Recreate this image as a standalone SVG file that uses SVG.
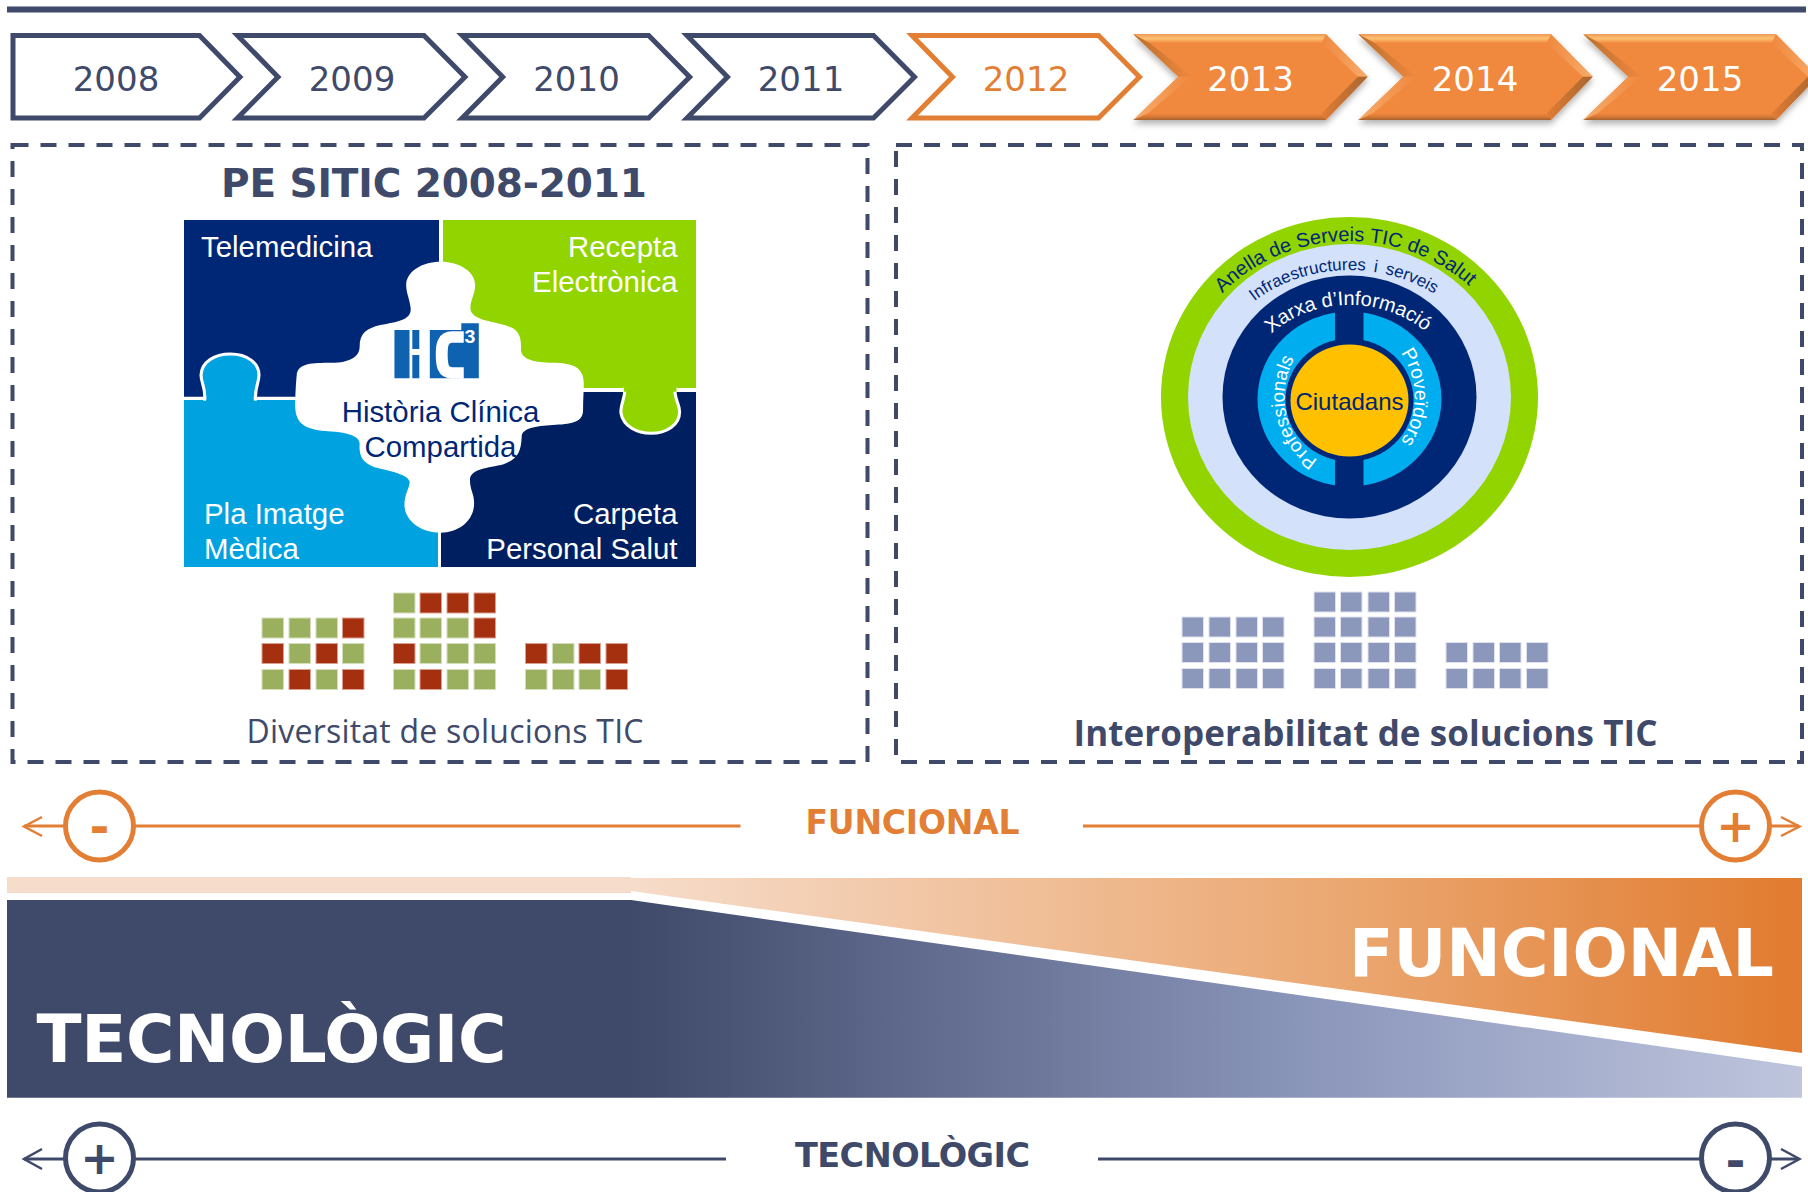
<svg xmlns="http://www.w3.org/2000/svg" width="1808" height="1192" viewBox="0 0 1808 1192">
<style>
.yr{font-family:"DejaVu Sans",sans-serif;font-size:34px;text-anchor:middle;fill:#3F4A6A}
.or{fill:#E27F34}
.w{fill:#fff}
.out{fill:#fff;stroke:#3F4A6A;stroke-width:5;stroke-linejoin:miter}
.dash{fill:none;stroke:#3F4A6A;stroke-width:4;stroke-dasharray:16 12}
.b{font-family:"DejaVu Sans",sans-serif;font-weight:700}
.pz{font-family:"Liberation Sans",Arial,sans-serif;font-size:29.4px;fill:#fff}
.c{font-family:"Liberation Sans",Arial,sans-serif;fill:#002776}
.g{fill:#9BB05E;stroke:#D5DEBA;stroke-width:1}
.r{fill:#A5300F;stroke:#D9A090;stroke-width:1}
.p{fill:#8C97BC;stroke:#DFE2EE;stroke-width:1}
.ol{fill:none;stroke:#E27F34}
.nl{fill:none;stroke:#3F4A6A}
</style>
<defs>
<path id="chev" d="M237.5,35.500H424L465,77L424,118H237.500L278,77Z"/>
<linearGradient id="gO" gradientUnits="userSpaceOnUse" x1="631" y1="0" x2="1802" y2="0"><stop offset="0" stop-color="#F6DCCA"/><stop offset=".6" stop-color="#EBA872"/><stop offset="1" stop-color="#E17B2F"/></linearGradient>
<linearGradient id="gB" gradientUnits="userSpaceOnUse" x1="631" y1="0" x2="1802" y2="0"><stop offset="0" stop-color="#3F4A6A"/><stop offset=".57" stop-color="#8A95BA"/><stop offset="1" stop-color="#BEC5DD"/></linearGradient>
<linearGradient id="gT" x1="0" y1="0" x2="0" y2="1"><stop offset="0" stop-color="#EE9A58"/><stop offset=".45" stop-color="#FFC272"/><stop offset="1" stop-color="#F0883E"/></linearGradient>
<linearGradient id="gBo" x1="0" y1="0" x2="0" y2="1"><stop offset="0" stop-color="#F0883E"/><stop offset=".5" stop-color="#D87A36"/><stop offset="1" stop-color="#A5622B"/></linearGradient>
<linearGradient id="gL" x1="0" y1="0" x2="1" y2="0"><stop offset="0" stop-color="#B8702F"/><stop offset="1" stop-color="#F0883E"/></linearGradient>
<linearGradient id="gLo" x1="0" y1="0" x2="1" y2="0"><stop offset="0" stop-color="#F6AC6A"/><stop offset="1" stop-color="#F0883E"/></linearGradient>
<linearGradient id="gR" x1="0" y1="0" x2="1" y2="0"><stop offset="0" stop-color="#F0883E"/><stop offset="1" stop-color="#F6AC6A"/></linearGradient>
<linearGradient id="gRo" x1="0" y1="0" x2="1" y2="0"><stop offset="0" stop-color="#E07C36"/><stop offset="1" stop-color="#A86630"/></linearGradient>
<filter id="sh" x="-5%" y="-10%" width="110%" height="130%"><feDropShadow dx="0" dy="4" stdDeviation="3" flood-color="#000" flood-opacity=".3"/></filter>
<g id="bev">
<path d="M1133.3,34.3H1326L1367.7,76.7L1326,120H1133.3L1178.3,76.7Z" fill="#F0883E" filter="url(#sh)"/>
<path d="M1133.3,34.3H1326L1321.7,43.3H1150Z" fill="url(#gT)"/>
<path d="M1133.3,34.3L1150,43.3L1191.7,76.7H1178.3Z" fill="url(#gL)"/>
<path d="M1133.3,120L1148,113.3L1191.7,76.7H1178.3Z" fill="url(#gLo)"/>
<path d="M1133.3,120H1326L1321.7,113.3H1148Z" fill="url(#gBo)"/>
<path d="M1326,34.3L1367.7,76.7H1358L1321.7,43.3Z" fill="url(#gR)"/>
<path d="M1326,120L1367.7,76.7H1358L1321.7,113.3Z" fill="url(#gRo)"/>
</g>
<path id="pOuter" d="M1179.500,397A170,156 0 0 1 1519.500,397"/>
<path id="pMid" d="M1204.500,397A145,127 0 0 1 1494.500,397"/>
<path id="pNet" d="M1241.500,397A108,92 0 0 1 1457.500,397"/>
<path id="pIn" d="M1349.500,469A65,72 0 1 1 1349.500,325A65,72 0 1 1 1349.500,469"/>
</defs>
<rect id="top-rule" x="7" y="6.5" width="1799" height="6" fill="#3F4A6A"/>
<g id="year-2008"><path class="out" d="M13,35.500H199.500L240,77L199.500,118H13Z"/><text class="yr" x="116" y="90.5">2008</text></g>
<g id="year-2009"><use href="#chev" class="out"/><text class="yr" x="352" y="90.5">2009</text></g>
<g id="year-2010"><use href="#chev" class="out" x="224.7"/><text class="yr" x="576.5" y="90.5">2010</text></g>
<g id="year-2011"><use href="#chev" class="out" x="449.5"/><text class="yr" x="801" y="90.5">2011</text></g>
<g id="year-2012"><use href="#chev" class="out" x="674.5" style="stroke:#E27F34"/><text class="yr" x="1026" y="90.5" style="fill:#E27F34">2012</text></g>
<g id="year-2013"><use href="#bev"/><text class="yr" x="1250.500" y="90.5" style="fill:#fff">2013</text></g>
<g id="year-2014"><use href="#bev" x="225"/><text class="yr" x="1475" y="90.5" style="fill:#fff">2014</text></g>
<g id="year-2015"><use href="#bev" x="450"/><text class="yr" x="1700" y="90.5" style="fill:#fff">2015</text></g>

<g id="panel-left">
<rect class="dash" x="12.5" y="145" width="855" height="617"/>
<text class="b" x="434" y="196.5" font-size="39" fill="#3F4A6A" text-anchor="middle" textLength="426">PE SITIC 2008-2011</text>
</g>
<g id="puzzle">
<rect x="184" y="220" width="255" height="178" fill="#002776"/>
<rect x="443" y="220" width="253" height="168" fill="#92D400"/>
<rect x="441" y="392" width="255" height="175" fill="#001F60"/>
<rect x="184" y="400" width="254" height="167" fill="#00A3E0"/>
<g transform="translate(170,210) scale(.3448,.3333)">
<path d="M100,572C105,535 90,520 90,495C92,455 130,432 175,432C225,432 258,460 258,495C258,520 245,535 248,572" fill="#00A3E0" stroke="#fff" stroke-width="9"/>
<path d="M40,565H105M243,565H370" stroke="#fff" stroke-width="9" fill="none"/>
<path d="M1200,540H1316M1469,540H1526" stroke="#fff" stroke-width="11" fill="none"/>
<path d="M1320,530C1320,570 1305,585 1308,610C1315,650 1355,670 1395,670C1440,670 1478,645 1478,605C1478,580 1460,565 1465,530" fill="#92D400" stroke="#fff" stroke-width="9"/>
<path d="M1316,520H1469V545H1316Z" fill="#92D400"/>
<path d="M785,155C840,155 885,185 885,225C885,255 868,275 872,300C878,335 960,335 995,355C1020,372 1018,400 1018,420C1020,450 1060,458 1110,458C1165,458 1200,470 1200,520C1200,545 1198,570 1198,600C1198,640 1160,642 1110,645C1060,648 1020,655 1020,680C1018,730 1005,750 960,765C910,775 870,780 870,810C870,840 882,850 882,880C882,930 840,968 785,968C725,968 680,930 680,885C680,850 695,835 695,815C690,790 620,780 590,770C555,755 548,735 550,700C548,670 490,665 440,662C390,655 365,640 363,590C363,560 365,520 368,490C375,460 410,458 470,458C520,458 550,440 550,410C550,370 570,355 610,345C660,335 700,330 698,295C695,265 685,250 685,225C685,185 730,155 785,155Z" fill="#fff"/>
</g>
<g id="hc3-logo" transform="translate(385,315) scale(.35,.3333)">
<path d="M27,45H70V190H27ZM78,45H98V102H78ZM78,120H98V190H78ZM128,45H218V25H268V190H128Z" fill="#0F62B0"/>
<path d="M225,66H192C165,66 162,90 162,118C162,150 165,174 192,174H225" fill="none" stroke="#fff" stroke-width="34"/>
<text x="243" y="85" font-family="Liberation Sans,Arial,sans-serif" font-weight="700" font-size="56" fill="#fff" text-anchor="middle">3</text>
</g>
<text class="pz" x="201" y="257">Telemedicina</text>
<text class="pz" x="677.5" y="257" text-anchor="end">Recepta</text>
<text class="pz" x="677.5" y="292" text-anchor="end">Electrònica</text>
<text class="pz" x="204" y="524">Pla Imatge</text>
<text class="pz" x="204" y="559">Mèdica</text>
<text class="pz" x="677.5" y="524" text-anchor="end">Carpeta</text>
<text class="pz" x="677.5" y="559" text-anchor="end">Personal Salut</text>
<text class="pz" x="440.5" y="422" text-anchor="middle" style="fill:#002776">Història Clínica</text>
<text class="pz" x="440.5" y="457" text-anchor="middle" style="fill:#002776">Compartida</text>
</g>

<g id="squares-left">
<rect class="g" x="262" y="618" width="21.5" height="20"/><rect class="g" x="289" y="618" width="21.5" height="20"/><rect class="g" x="316" y="618" width="21.5" height="20"/><rect class="r" x="342.500" y="618" width="21.5" height="20"/>
<rect class="r" x="262" y="643.500" width="21.5" height="20"/><rect class="g" x="289" y="643.500" width="21.5" height="20"/><rect class="r" x="316" y="643.500" width="21.5" height="20"/><rect class="g" x="342.500" y="643.500" width="21.5" height="20"/>
<rect class="g" x="262" y="669.500" width="21.5" height="20"/><rect class="r" x="289" y="669.500" width="21.5" height="20"/><rect class="g" x="316" y="669.500" width="21.5" height="20"/><rect class="r" x="342.500" y="669.500" width="21.5" height="20"/>
<rect class="g" x="393.500" y="593" width="21.5" height="20"/><rect class="r" x="420" y="593" width="21.5" height="20"/><rect class="r" x="447" y="593" width="21.5" height="20"/><rect class="r" x="474" y="593" width="21.5" height="20"/>
<rect class="g" x="393.500" y="618" width="21.5" height="20"/><rect class="g" x="420" y="618" width="21.5" height="20"/><rect class="g" x="447" y="618" width="21.5" height="20"/><rect class="r" x="474" y="618" width="21.5" height="20"/>
<rect class="r" x="393.500" y="643.500" width="21.5" height="20"/><rect class="g" x="420" y="643.500" width="21.5" height="20"/><rect class="g" x="447" y="643.500" width="21.5" height="20"/><rect class="g" x="474" y="643.500" width="21.5" height="20"/>
<rect class="g" x="393.500" y="669.500" width="21.5" height="20"/><rect class="r" x="420" y="669.500" width="21.5" height="20"/><rect class="g" x="447" y="669.500" width="21.5" height="20"/><rect class="g" x="474" y="669.500" width="21.500" height="20"/>
<rect class="r" x="525.500" y="643.500" width="21.5" height="20"/><rect class="g" x="552.500" y="643.500" width="21.5" height="20"/><rect class="r" x="579" y="643.500" width="21.5" height="20"/><rect class="r" x="606" y="643.500" width="21.5" height="20"/>
<rect class="g" x="525.500" y="669.500" width="21.5" height="20"/><rect class="g" x="552.500" y="669.500" width="21.5" height="20"/><rect class="g" x="579" y="669.500" width="21.5" height="20"/><rect class="r" x="606" y="669.500" width="21.5" height="20"/>
</g>
<text id="label-diversitat" x="445" y="742.5" font-family="Open Sans,sans-serif" font-size="32" fill="#3F4A6A" text-anchor="middle" textLength="397">Diversitat de solucions TIC</text>

<g id="panel-right">
<rect class="dash" x="896" y="145" width="906" height="617"/>
</g>
<g id="rings">
<ellipse cx="1349.500" cy="397" rx="188.500" ry="180" fill="#92D400"/>
<ellipse cx="1349.500" cy="397" rx="161.500" ry="153" fill="#D3E1FB"/>
<ellipse cx="1349.500" cy="397" rx="127" ry="121.500" fill="#002776"/>
<ellipse cx="1349.500" cy="399" rx="92" ry="87.500" fill="#00AEEF"/>
<rect x="1335" y="300" width="28.500" height="200" fill="#002776"/>
<ellipse cx="1349.500" cy="400" rx="64" ry="61.500" fill="#002776"/>
<ellipse cx="1349.500" cy="400.500" rx="59" ry="56" fill="#FFC000"/>
<text class="c" font-size="20"><textPath href="#pOuter" startOffset="49%" text-anchor="middle">Anella de Serveis TIC de Salut</textPath></text>
<text class="c" font-size="17" word-spacing="3"><textPath href="#pMid" startOffset="48.500%" text-anchor="middle">Infraestructures i serveis</textPath></text>
<text class="c" font-size="20" style="fill:#fff"><textPath href="#pNet" startOffset="49.500%" text-anchor="middle">Xarxa d’Informació</textPath></text>
<text class="c" font-size="19" style="fill:#fff"><textPath href="#pIn" startOffset="21%" text-anchor="middle">Professionals</textPath></text>
<text class="c" font-size="19.500" style="fill:#fff"><textPath href="#pIn" startOffset="75%" text-anchor="middle">Proveïdors</textPath></text>
<text class="c" x="1349.500" y="410" font-size="24" text-anchor="middle">Ciutadans</text>
</g>
<g id="squares-right">
<rect class="p" x="1182" y="617" width="21.5" height="20"/><rect class="p" x="1209" y="617" width="21.5" height="20"/><rect class="p" x="1236" y="617" width="21.5" height="20"/><rect class="p" x="1262.500" y="617" width="21.5" height="20"/>
<rect class="p" x="1182" y="642.500" width="21.5" height="20"/><rect class="p" x="1209" y="642.500" width="21.5" height="20"/><rect class="p" x="1236" y="642.500" width="21.5" height="20"/><rect class="p" x="1262.500" y="642.500" width="21.5" height="20"/>
<rect class="p" x="1182" y="668.500" width="21.5" height="20"/><rect class="p" x="1209" y="668.500" width="21.5" height="20"/><rect class="p" x="1236" y="668.500" width="21.5" height="20"/><rect class="p" x="1262.500" y="668.500" width="21.5" height="20"/>
<rect class="p" x="1314" y="592" width="21.5" height="20"/><rect class="p" x="1340.500" y="592" width="21.5" height="20"/><rect class="p" x="1368" y="592" width="21.5" height="20"/><rect class="p" x="1394.500" y="592" width="21.5" height="20"/>
<rect class="p" x="1314" y="617" width="21.5" height="20"/><rect class="p" x="1340.500" y="617" width="21.5" height="20"/><rect class="p" x="1368" y="617" width="21.5" height="20"/><rect class="p" x="1394.500" y="617" width="21.5" height="20"/>
<rect class="p" x="1314" y="642.500" width="21.5" height="20"/><rect class="p" x="1340.500" y="642.500" width="21.5" height="20"/><rect class="p" x="1368" y="642.500" width="21.5" height="20"/><rect class="p" x="1394.500" y="642.500" width="21.5" height="20"/>
<rect class="p" x="1314" y="668.500" width="21.5" height="20"/><rect class="p" x="1340.500" y="668.500" width="21.5" height="20"/><rect class="p" x="1368" y="668.500" width="21.5" height="20"/><rect class="p" x="1394.500" y="668.500" width="21.5" height="20"/>
<rect class="p" x="1446" y="642.500" width="21.5" height="20"/><rect class="p" x="1473" y="642.500" width="21.5" height="20"/><rect class="p" x="1499.500" y="642.500" width="21.5" height="20"/><rect class="p" x="1526.500" y="642.500" width="21.5" height="20"/>
<rect class="p" x="1446" y="668.500" width="21.5" height="20"/><rect class="p" x="1473" y="668.500" width="21.5" height="20"/><rect class="p" x="1499.500" y="668.500" width="21.5" height="20"/><rect class="p" x="1526.500" y="668.500" width="21.5" height="20"/>
</g>
<text id="label-interop" x="1365.500" y="745.500" font-family="Open Sans,sans-serif" font-weight="700" font-size="35" fill="#3F4A6A" text-anchor="middle" textLength="584">Interoperabilitat de solucions TIC</text>

<g id="connectors">
<path class="ol" stroke-width="3" d="M24,826H64M135,826H740.500M1083,826H1700M1771,826H1799"/>
<path class="ol" stroke-width="2.500" d="M42,817L24,826.500L42,836M1781,817L1799.500,826.500L1781,836"/>
<path class="nl" stroke-width="3" d="M24,1159H64M135,1159H726M1098,1159H1700M1771,1159H1799"/>
<path class="nl" stroke-width="2.500" d="M42,1149L24,1159L42,1169M1781,1149L1799.500,1159L1781,1169"/>
</g>
<g id="axis-func-minus"><circle cx="99.500" cy="826" r="34" fill="#fff" stroke="#E27F34" stroke-width="5"/><text class="b or" x="99.500" y="843" font-size="48" text-anchor="middle">-</text></g>
<g id="axis-func-plus"><circle cx="1735.500" cy="826" r="34" fill="#fff" stroke="#E27F34" stroke-width="5"/><text class="b or" x="1735.500" y="841.500" font-size="46" text-anchor="middle">+</text></g>
<g id="axis-tec-plus"><circle cx="99.500" cy="1158" r="34" fill="#fff" stroke="#3F4A6A" stroke-width="5"/><text class="b" x="99.500" y="1173.500" font-size="46" text-anchor="middle" fill="#3F4A6A">+</text></g>
<g id="axis-tec-minus"><circle cx="1735.500" cy="1158" r="34" fill="#fff" stroke="#3F4A6A" stroke-width="5"/><text class="b" x="1735.500" y="1176.500" font-size="48" text-anchor="middle" fill="#3F4A6A">-</text></g>
<text class="b or" id="axis-func-label" x="912.500" y="833.500" font-size="33" text-anchor="middle" textLength="214">FUNCIONAL</text>
<text class="b" id="axis-tec-label" x="912.500" y="1167" font-size="33.500" text-anchor="middle" fill="#3F4A6A" textLength="235">TECNOLÒGIC</text>

<g id="band-func">
<rect x="7" y="877" width="624" height="16" fill="#F6DCCA"/>
<path d="M631,878H1802V1053L631,891Z" fill="url(#gO)"/>
<text class="b w" x="1349" y="975.500" font-size="65" textLength="425">FUNCIONAL</text>
</g>
<g id="band-tec">
<path d="M7,900H631L1802,1066.700V1097.700H7Z" fill="url(#gB)"/>
<text class="b w" x="36.500" y="1061.500" font-size="66" textLength="470">TECNOLÒGIC</text>
</g>
</svg>
